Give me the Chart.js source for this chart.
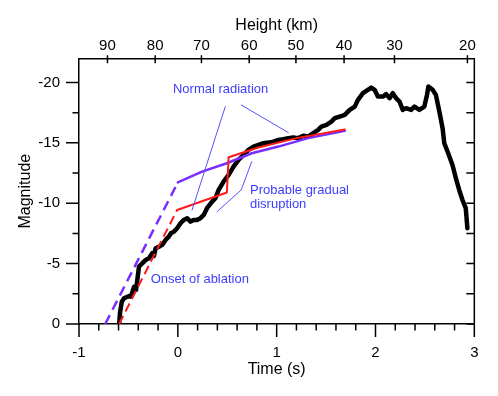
<!DOCTYPE html>
<html>
<head>
<meta charset="utf-8">
<script src="https://cdn.jsdelivr.net/npm/chart.js@4"></script>
<style>
  html, body { margin: 0; padding: 0; background: #fff; }
  #wrap { width: 498px; height: 396px; }
</style>
</head>
<body>
<div id="wrap"><canvas id="meteor" width="498" height="396"></canvas></div>
<script>
// axis ticks
const timeTicks = [-1, 0, 1, 2, 3];
const timeMinor = [-1, -0.8, -0.6, -0.4, -0.2, 0, 0.2, 0.4, 0.6, 0.8, 1, 1.2, 1.4, 1.6, 1.8, 2, 2.2, 2.4, 2.6, 2.8, 3];
const magTicks = [0, -5, -10, -15, -20];
const magMinor = [0, -2.5, -5, -7.5, -10, -12.5, -15, -17.5, -20];
const heightLabels = [90, 80, 70, 60, 50, 40, 30, 20];
const heightTimes = [-0.712, -0.229, 0.239, 0.722, 1.195, 1.682, 2.192, 2.93];

// observed light curve
const obsTime = [-0.594,-0.584,-0.567,-0.544,-0.493,-0.473,-0.443,-0.423,-0.393,-0.360,-0.325,-0.292,-0.259,-0.242,-0.225,-0.191,-0.158,-0.124,-0.091,-0.070,-0.040,-0.007,0.027,0.060,0.094,0.128,0.161,0.194,0.229,0.262,0.295,0.345,0.380,0.413,0.463,0.514,0.564,0.614,0.665,0.715,0.765,0.816,0.866,0.916,0.967,1.017,1.067,1.118,1.168,1.219,1.269,1.319,1.370,1.420,1.453,1.504,1.554,1.588,1.638,1.689,1.739,1.790,1.823,1.873,1.923,1.957,1.991,2.024,2.075,2.108,2.142,2.175,2.208,2.243,2.276,2.309,2.360,2.394,2.444,2.494,2.521,2.535,2.578,2.611,2.646,2.679,2.696,2.729,2.779,2.813,2.847,2.880,2.913,2.930];
const obsMag = [0,-0.99,-1.85,-2.13,-2.32,-2.26,-3.09,-2.82,-4.75,-5.03,-5.30,-5.44,-5.86,-5.63,-6.27,-6.40,-6.55,-6.96,-7.23,-7.51,-7.65,-7.93,-8.34,-8.62,-8.76,-8.48,-8.62,-8.62,-8.76,-9.03,-9.59,-10.11,-10.41,-11.10,-11.79,-12.34,-13.03,-13.59,-14.00,-14.42,-14.69,-14.83,-14.97,-15.02,-15.10,-15.24,-15.30,-15.39,-15.44,-15.39,-15.58,-15.52,-15.80,-16.07,-16.35,-16.49,-16.76,-17.04,-17.18,-17.32,-17.73,-18.00,-18.56,-19.11,-19.39,-19.58,-19.39,-18.83,-18.83,-19.03,-18.70,-19.11,-18.70,-18.42,-17.73,-17.87,-17.73,-18.00,-17.73,-18.00,-18.97,-19.66,-19.39,-18.97,-17.59,-16.21,-14.97,-14.28,-13.17,-12.07,-11.10,-10.27,-9.59,-7.93];

// model curves (red: with disruption, purple: normal radiation)
const redDashTime = [-0.594, -0.007];
const redDashMag = [0, -9.44];
const redTime = [-0.007, 0.496, 0.514, 0.816, 1.201, 1.689];
const redMag = [-9.44, -10.89, -13.81, -14.62, -15.39, -16.11];
const purpleDashTime = [-0.735, 0];
const purpleDashMag = [0, -11.72];
const purpleTime = [0, 0.245, 0.496, 0.748, 1.017, 1.319, 1.689];
const purpleMag = [-11.72, -12.62, -13.31, -14.14, -14.69, -15.39, -15.99];

// annotation leader lines
const leaderATime = [0.480, 0.144];
const leaderAMag = [-18.00, -9.44];
const leaderBTime = [0.641, 1.118];
const leaderBMag = [-18.14, -15.85];
const leaderCTime = [0.748, 0.641, 0.396];
const leaderCMag = [-13.45, -11.10, -9.30];

// annotation texts
const noteText = ['Normal radiation', 'Probable gradual', 'disruption', 'Onset of ablation'];
const noteTime = [0.433, 0.73, 0.73, -0.275];
const noteMag = [-19.39, -11.10, -9.94, -3.65];
const noteAlign = ['center', 'left', 'left', 'left'];

const FONT = '"Liberation Sans", Arial, Helvetica, sans-serif';
const BLUE = '#3d3dff';

function pts(xs, ys) {
  return xs.map((t, i) => ({ x: t, y: ys[i] }));
}

function lineSet(xs, ys, color, width, dash) {
  return {
    data: pts(xs, ys),
    borderColor: color,
    borderWidth: width,
    borderDash: dash || [],
    pointRadius: 0,
    tension: 0,
    fill: false,
    borderJoinStyle: 'round',
    borderCapStyle: dash ? 'butt' : 'round'
  };
}

// tick marks (major/minor lengths differ) + right frame + annotation text
const tickMarks = {
  id: 'tickMarks',
  afterDraw(chart) {
    const { ctx, chartArea: a, scales } = chart;
    const x = scales.x, y = scales.y;
    ctx.save();
    ctx.strokeStyle = '#000';
    ctx.lineWidth = 1.5;
    ctx.beginPath();
    // bottom
    timeMinor.forEach(v => {
      const px = x.getPixelForValue(v);
      const len = timeTicks.includes(v) ? 13 : 6.5;
      ctx.moveTo(px, a.bottom);
      ctx.lineTo(px, a.bottom + len);
    });
    // left
    magMinor.forEach(v => {
      const py = y.getPixelForValue(v);
      const len = magTicks.includes(v) ? 13 : 6.5;
      ctx.moveTo(a.left, py);
      ctx.lineTo(a.left - len, py);
    });
    // right frame with inward ticks
    ctx.moveTo(a.right, a.top);
    ctx.lineTo(a.right, a.bottom);
    magMinor.forEach(v => {
      const py = y.getPixelForValue(v);
      ctx.moveTo(a.right, py);
      ctx.lineTo(a.right - 8, py);
    });
    // top height axis
    heightTimes.forEach(v => {
      const px = x.getPixelForValue(v);
      ctx.moveTo(px, a.top - 3);
      ctx.lineTo(px, a.top + 5);
    });
    ctx.stroke();

    ctx.fillStyle = BLUE;
    ctx.font = '13px ' + FONT;
    ctx.textBaseline = 'middle';
    noteText.forEach((txt, i) => {
      ctx.textAlign = noteAlign[i];
      ctx.fillText(txt, x.getPixelForValue(noteTime[i]), y.getPixelForValue(noteMag[i]));
    });
    ctx.restore();
  }
};

new Chart(document.getElementById('meteor'), {
  type: 'line',
  data: {
    datasets: [
      lineSet(leaderATime, leaderAMag, '#5252ff', 1),
      lineSet(leaderBTime, leaderBMag, '#5252ff', 1),
      lineSet(leaderCTime, leaderCMag, '#5252ff', 1),
      lineSet(redDashTime, redDashMag, '#ff1a1a', 2, [9, 5]),
      lineSet(redTime, redMag, '#ff1a1a', 2),
      lineSet(purpleDashTime, purpleDashMag, '#7a2dff', 2.5, [10, 6]),
      lineSet(purpleTime, purpleMag, '#7a2dff', 2.5),
      lineSet(obsTime, obsMag, '#000000', 4.5)
    ]
  },
  options: {
    responsive: false,
    animation: false,
    devicePixelRatio: 1,
    layout: { padding: { left: 0, right: 21, top: 0, bottom: 0 } },
    plugins: { legend: { display: false }, tooltip: { enabled: false } },
    scales: {
      x: {
        type: 'linear',
        position: 'bottom',
        min: -1,
        max: 3,
        afterBuildTicks: s => { s.ticks = timeTicks.map(v => ({ value: v })); },
        afterFit: s => { s.height = 72; },
        grid: { drawOnChartArea: false, drawTicks: false },
        border: { display: true, color: '#000', width: 1.5 },
        ticks: {
          autoSkip: false, maxRotation: 0, padding: 19.5, color: '#000',
          font: { family: FONT, size: 15 },
          callback: v => String(v)
        },
        title: {
          display: true, text: 'Time (s)', color: '#000',
          font: { family: FONT, size: 16 }, padding: { top: 0, bottom: 16.4 }
        }
      },
      xTop: {
        type: 'linear',
        position: 'top',
        min: -1,
        max: 3,
        afterBuildTicks: s => { s.ticks = heightTimes.map(v => ({ value: v })); },
        afterFit: s => { s.height = 58.3; },
        grid: { drawOnChartArea: false, drawTicks: false },
        border: { display: true, color: '#000', width: 1.5 },
        ticks: {
          autoSkip: false, maxRotation: 0, padding: 3, color: '#000',
          font: { family: FONT, size: 15 },
          callback: (v, i) => String(heightLabels[i])
        },
        title: {
          display: true, text: 'Height (km)', color: '#000',
          font: { family: FONT, size: 16 }, padding: { top: 16, bottom: 0 }
        }
      },
      y: {
        type: 'linear',
        position: 'left',
        min: -22,
        max: 0,
        reverse: true,
        afterBuildTicks: s => { s.ticks = magTicks.map(v => ({ value: v })); },
        afterFit: s => { s.width = 79; },
        grid: { drawOnChartArea: false, drawTicks: false },
        border: { display: true, color: '#000', width: 1.5 },
        ticks: {
          autoSkip: false, padding: 19, color: '#000',
          font: { family: FONT, size: 15 },
          callback: v => String(v)
        },
        title: {
          display: true, text: 'Magnitude', color: '#000',
          font: { family: FONT, size: 16 }, padding: { top: 16.4, bottom: 0 }
        }
      }
    }
  },
  plugins: [tickMarks]
});
</script>
</body>
</html>
